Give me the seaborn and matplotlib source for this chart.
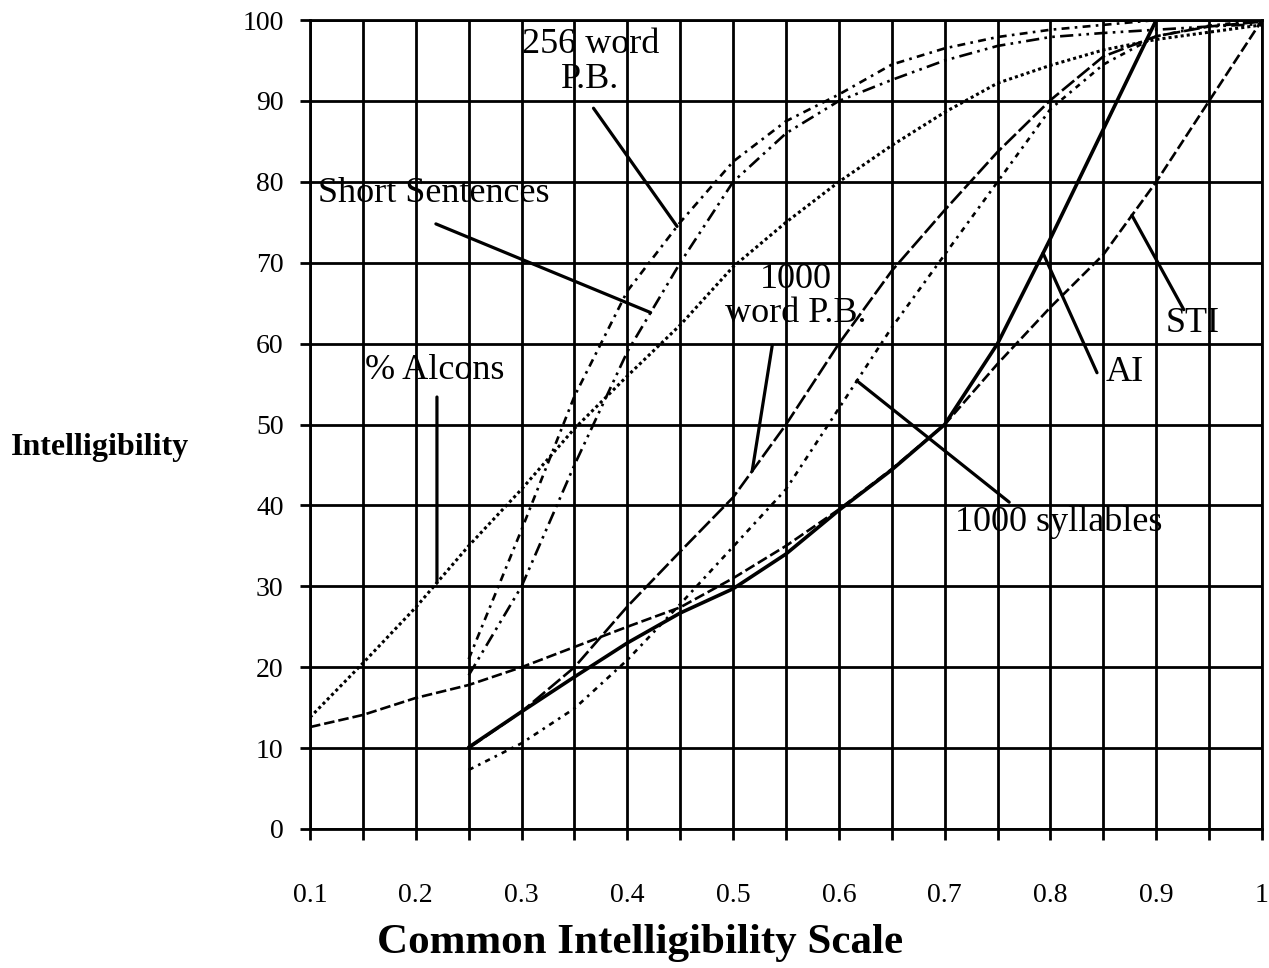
import numpy as np
import matplotlib
matplotlib.use("Agg")
import matplotlib.pyplot as plt
import seaborn as sns

# Common Intelligibility Scale values used by the curves
cis_all = [0.1, 0.15, 0.2, 0.25, 0.3, 0.35, 0.4, 0.45, 0.5, 0.55,
           0.6, 0.65, 0.7, 0.75, 0.8, 0.85, 0.9, 0.95, 1.0]
cis_mid = [0.25, 0.3, 0.35, 0.4, 0.45, 0.5, 0.55, 0.6, 0.65, 0.7,
           0.75, 0.8, 0.85, 0.9, 0.95, 1.0]
cis_ai = [0.25, 0.3, 0.35, 0.4, 0.45, 0.5, 0.55, 0.6, 0.65, 0.7,
          0.75, 0.8, 0.85, 0.9]

# intelligibility values
sti = [12.6, 14.1, 16.2, 17.8, 20.0, 22.5, 25.0, 27.4, 31.0, 35.0,
       39.5, 44.5, 50.0, 57.5, 64.5, 71.0, 80.0, 90.0, 100.0]
alcons = [13.8, 20.5, 27.4, 35.0, 42.0, 49.5, 56.0, 62.3, 69.5, 75.0,
          80.0, 84.5, 88.6, 92.2, 94.4, 96.3, 97.6, 98.5, 99.4]
ai = [10.1, 14.5, 18.8, 23.0, 26.7, 29.7, 34.0, 39.4, 44.4, 50.0,
      60.0, 73.0, 86.5, 100.0]
pb_256 = [21.0, 37.0, 53.5, 66.5, 75.0, 82.5, 87.5, 90.8, 94.5, 96.5,
          97.9, 98.8, 99.4, 100.0, 100.0, 100.0]
short_sent = [19.0, 30.0, 45.0, 59.0, 70.0, 80.0, 86.0, 90.0, 92.6, 95.0,
              96.8, 97.9, 98.4, 98.8, 99.2, 99.5]
pb_1000 = [10.0, 14.5, 20.0, 27.5, 34.3, 41.0, 50.0, 60.0, 69.0, 76.5,
           83.7, 90.1, 95.5, 98.0, 99.2, 99.8]
syll_1000 = [7.3, 10.6, 14.9, 20.9, 27.8, 34.9, 42.0, 52.0, 62.0, 71.0,
             80.0, 89.0, 94.5, 98.0, 99.3, 100.0]

major_ticks = [0.1, 0.2, 0.3, 0.4, 0.5, 0.6, 0.7, 0.8, 0.9, 1.0]
major_labels = ["0.1", "0.2", "0.3", "0.4", "0.5", "0.6", "0.7", "0.8", "0.9", "1"]
minor_ticks = [0.15, 0.25, 0.35, 0.45, 0.55, 0.65, 0.75, 0.85, 0.95]
y_ticks = [0, 10, 20, 30, 40, 50, 60, 70, 80, 90, 100]

sns.set_theme(style="white")
plt.rcParams['font.family'] = ['Liberation Serif', 'DejaVu Serif']
plt.rcParams['text.color'] = 'black'
plt.rcParams['axes.labelcolor'] = 'black'
plt.rcParams['xtick.color'] = 'black'
plt.rcParams['ytick.color'] = 'black'

fig, ax = plt.subplots(figsize=(12.69, 9.68), dpi=100)
fig.subplots_adjust(left=0.2443, right=0.9945, top=0.9793, bottom=0.1436)

# curves: (x, y, linestyle, linewidth)
curves = {
    "STI": (cis_all, sti, (0, (4, 1.5)), 1.9),
    "% Alcons": (cis_all, alcons, (0, (1, 1)), 2.2),
    "AI": (cis_ai, ai, "-", 2.6),
    "256 word P.B.": (cis_mid, pb_256, (0, (3, 2, 1, 2)), 1.9),
    "Short Sentences": (cis_mid, short_sent, (0, (5, 2, 1, 2, 1, 2)), 1.9),
    "1000 word P.B.": (cis_mid, pb_1000, (0, (6, 1.5)), 1.9),
    "1000 syllables": (cis_mid, syll_1000, (0, (2, 2, 1, 2)), 1.9),
}
for name, (xs, ys, ls, lw) in curves.items():
    sns.lineplot(x=xs, y=ys, ax=ax, color="black", linestyle=ls, lw=lw,
                 estimator=None, zorder=3)

# label text, text position, pointer start, x where the pointer meets the curve
labels = [
    ("256 word\nP.B.", "256 word P.B.", (0.365, 94.8), (0.368, 89.1), 0.447),
    ("Short Sentences", "Short Sentences", (0.217, 78.6), (0.219, 74.8), 0.422),
    ("% Alcons", "% Alcons", (0.218, 56.7), (0.220, 53.4), 0.220),
    ("1000\nword P.B.", "1000 word P.B.", (0.559, 65.8), (0.537, 59.8), 0.518),
    ("1000 syllables", "1000 syllables", (0.808, 37.9), (0.761, 40.4), 0.617),
    ("AI", "AI", (0.870, 56.4), (0.844, 56.4), 0.793),
    ("STI", "STI", (0.934, 62.5), (0.926, 64.2), 0.877),
]
for text, key, tpos, start, xe in labels:
    xs, ys = curves[key][0], curves[key][1]
    ye = np.interp(xe, xs, ys)
    ax.annotate("", xy=(xe, ye), xytext=start,
                arrowprops=dict(arrowstyle="-", color="black", lw=2.3,
                                shrinkA=0, shrinkB=0), zorder=4)
    ax.text(tpos[0], tpos[1], text, fontsize=26, ha="center", va="center",
            linespacing=1.05, color="black", zorder=5)

ax.set_xlim(0.1, 1.0)
ax.set_ylim(0, 100)
ax.set_xticks(major_ticks)
ax.set_xticklabels(major_labels)
ax.set_xticks(minor_ticks, minor=True)
ax.set_yticks(y_ticks)

ax.grid(which="both", axis="x", color="black", lw=2.0)
ax.grid(which="major", axis="y", color="black", lw=2.0)
ax.set_axisbelow(True)
for sp in ax.spines.values():
    sp.set_color("black")
    sp.set_linewidth(2.0)

ax.tick_params(axis="x", which="both", direction="out", length=8, width=2.0,
               color="black", bottom=True)
ax.tick_params(axis="x", which="major", labelsize=20, pad=31)
ax.tick_params(axis="y", direction="out", length=7, width=2.0, color="black",
               left=True, labelsize=20, pad=12)

ax.set_xlabel("Common Intelligibility Scale", fontsize=31, fontweight="bold",
              va="center")
ax.xaxis.set_label_coords(0.3466, -0.141)
ax.set_ylabel("Intelligibility", fontsize=23, fontweight="bold", rotation=0,
              ha="center", va="center")
ax.yaxis.set_label_coords(-0.2206, 0.472)

fig.savefig("out.png", dpi=100)
